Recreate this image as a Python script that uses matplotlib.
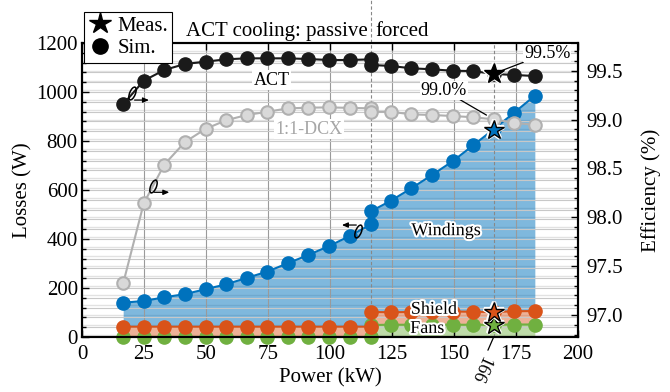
import numpy as np
import matplotlib
matplotlib.use("Agg")
from matplotlib import pyplot as plt
from matplotlib.lines import Line2D
from matplotlib.markers import MarkerStyle
from matplotlib.path import Path
from matplotlib.transforms import Affine2D, blended_transform_factory
from matplotlib.ticker import MultipleLocator, FormatStrFormatter
import matplotlib.patheffects as pe

plt.rcParams['font.family'] = ['Liberation Serif', 'DejaVu Serif']

# Operating points (kW). 116.7 kW appears twice: passive and forced ACT cooling.
power_passive = [16.6, 24.9, 33.2, 41.5, 49.8, 58.1, 66.4, 74.7, 83.0, 91.3, 99.6, 107.9, 116.7]
power_forced = [116.7, 124.5, 132.8, 141.1, 149.4, 157.7, 166.0, 174.3, 182.6]

# Simulated losses (W), stacked: fans, shield, windings
fans_passive = [0, 0, 0, 0, 0, 0, 0, 0, 0, 0, 0, 0, 0]
shield_passive = [42, 42, 42, 42, 42, 42, 42, 42, 42, 42, 42, 42, 42]
windings_passive = [98, 105, 120, 133, 153, 173, 199, 225, 259, 293, 329, 370, 419]
fans_forced = [49, 50, 50, 50, 50, 50, 50, 51, 51]
shield_forced = [53, 51, 52, 53, 54, 53, 52, 54, 55]
windings_forced = [412, 455, 505, 558, 613, 679, 746, 811, 879]

# Simulated efficiency (%)
eff_act_passive = [99.157, 99.398, 99.508, 99.569, 99.593, 99.617, 99.627, 99.627, 99.627,
                   99.620, 99.610, 99.610, 99.617]
eff_act_forced = [99.559, 99.549, 99.525, 99.515, 99.500, 99.497, 99.467, 99.457, 99.446]
eff_dcx_passive = [97.324, 98.143, 98.540, 98.770, 98.905, 98.993, 99.047, 99.080, 99.115,
                   99.122, 99.125, 99.120, 99.115]
eff_dcx_forced = [99.080, 99.080, 99.054, 99.047, 99.037, 99.024, 99.003, 98.968, 98.945]

# Measurement
meas_power = 166
meas_fans = 49
meas_shield = 52
meas_windings = 744
meas_eff_act = 99.47

BLUE = '#0072BD'
ORANGE = '#D95319'
GREEN = '#70B040'
GRAY = '#D9D9D9'
GRAY_EDGE = '#B0B0B0'
FS = 15
FS_ANN = 13

power = np.array(power_passive + power_forced)
lvl_fans = np.array(fans_passive + fans_forced, dtype=float)
lvl_shield = lvl_fans + np.array(shield_passive + shield_forced)
lvl_total = lvl_shield + np.array(windings_passive + windings_forced)
eff_act = np.array(eff_act_passive + eff_act_forced)
eff_dcx = np.array(eff_dcx_passive + eff_dcx_forced)

eff_lim = (96.775, 99.784)

fig = plt.figure(figsize=(6.7, 3.92), dpi=100)
pos = [82 / 670, 55 / 392, 496 / 670, 294 / 392]

# background axes carrying the efficiency grid
axg = fig.add_axes(pos)
axg.set_xlim(0, 200)
axg.set_ylim(*eff_lim)
axg.yaxis.set_minor_locator(MultipleLocator(0.1))
axg.grid(axis='y', which='both', color='#E2E2E2', lw=1.0)
axg.tick_params(which='both', left=False, bottom=False, labelleft=False, labelbottom=False)
for s in axg.spines.values():
    s.set_visible(False)
axg.set_zorder(0)

ax = fig.add_axes(pos)
ax.set_zorder(1)
ax.patch.set_visible(False)
ax2 = ax.twinx()
ax2.set_zorder(2)

# stacked losses
ax.fill_between(power, 0, lvl_fans, color=GREEN, alpha=0.45, lw=0)
ax.fill_between(power, lvl_fans, lvl_shield, color=ORANGE, alpha=0.45, lw=0)
ax.fill_between(power, lvl_shield, lvl_total, color=BLUE, alpha=0.5, lw=0)
ax.plot(power, lvl_fans, '-o', color=GREEN, ms=9.5, lw=1.5, clip_on=False, zorder=3)
ax.plot(power, lvl_shield, '-o', color=ORANGE, ms=9.5, lw=1.5, zorder=3)
ax.plot(power, lvl_total, '-o', color=BLUE, ms=9.5, lw=1.5, zorder=3)

ax.set_xlim(0, 200)
ax.set_ylim(0, 1200)
ax.xaxis.set_major_locator(MultipleLocator(25))
ax.yaxis.set_major_locator(MultipleLocator(200))
ax.yaxis.set_minor_locator(MultipleLocator(40))
ax.grid(axis='x', which='major', color='#9A9A9A', lw=0.8)
ax.grid(axis='y', which='both', color='#C8C8C8', lw=0.8)
ax.tick_params(which='both', direction='in', top=True, right=False, labelsize=FS, width=1)
ax.tick_params(which='major', length=5)
ax.tick_params(which='minor', length=3)
ax.tick_params(axis='y', pad=3)
ax.tick_params(axis='x', pad=6)

# separation lines
ax.axvline(116.7, ymin=0, ymax=1 + 43 / 294, color='#888888', ls=(0, (3, 2)), lw=0.8,
           clip_on=False, zorder=2.5)
ax.axvline(meas_power, color='#888888', ls=(0, (3, 2)), lw=0.8, zorder=2.5)

# efficiency curves
ax2.plot(power, eff_dcx, '-o', color=GRAY_EDGE, mfc=GRAY, mec=GRAY_EDGE, mew=1.5, ms=9,
         lw=1.5)
ax2.plot(power, eff_act, '-o', color='#1A1A1A', ms=9.5, lw=1.5)
ax2.set_ylim(*eff_lim)
ax2.yaxis.set_major_locator(MultipleLocator(0.5))
ax2.yaxis.set_minor_locator(MultipleLocator(0.1))
ax2.yaxis.set_major_formatter(FormatStrFormatter('%.1f'))
ax2.tick_params(which='both', direction='in', labelsize=FS, width=1)
ax2.tick_params(which='major', length=5, pad=6)
ax2.tick_params(which='minor', length=3)

# measurements (stars)
halo = [pe.withStroke(linewidth=3, foreground='white')]
ax2.plot([meas_power], [meas_fans], '*', transform=ax.transData, ms=15, mfc=GREEN,
         mec='black', mew=1, path_effects=halo, clip_on=False)
ax2.plot([meas_power], [meas_fans + meas_shield], '*', transform=ax.transData, ms=15,
         mfc=ORANGE, mec='black', mew=1, path_effects=halo)
ax2.plot([meas_power], [meas_fans + meas_shield + meas_windings], '*',
         transform=ax.transData, ms=15, mfc=BLUE, mec='black', mew=1, path_effects=halo)
ax2.plot([meas_power], [meas_eff_act], '*', ms=15, mfc='black', mec='black', mew=1,
         path_effects=halo)

for s in list(ax.spines.values()) + list(ax2.spines.values()):
    s.set_linewidth(1.5)

# curve labels
ax2.text(76.5, 99.405, 'ACT', fontsize=FS_ANN, ha='center', va='center',
         bbox=dict(fc='white', ec='none', pad=1))
ax2.text(91.5, 98.90, '1:1-DCX', fontsize=FS_ANN, color='#A6A6A6', ha='center', va='center',
         bbox=dict(fc='white', ec='none', pad=1))
outline = [pe.withStroke(linewidth=3, foreground='white')]
ax.text(146.7, 434, 'Windings', fontsize=FS_ANN, ha='center', va='center', path_effects=outline)
ax.text(141.9, 113, 'Shield', fontsize=FS_ANN, ha='center', va='center', path_effects=outline)
ax.text(139.2, 35, 'Fans', fontsize=FS_ANN, ha='center', va='center', path_effects=outline)

ax2.annotate('99.5%', xy=(meas_power, meas_eff_act), xytext=(178.2, 99.68), fontsize=FS_ANN,
             ha='left', va='center', annotation_clip=False,
             bbox=dict(fc='white', ec='none', pad=0.5),
             arrowprops=dict(arrowstyle='-', color='black', lw=0.9, shrinkA=0, shrinkB=6))
ax2.annotate('99.0%', xy=(meas_power, eff_dcx_forced[6]), xytext=(136.6, 99.30),
             fontsize=FS_ANN, ha='left', va='center',
             bbox=dict(fc='white', ec='none', pad=0.5),
             arrowprops=dict(arrowstyle='-', color='black', lw=0.9, shrinkA=0, shrinkB=6))

# axis indicators: ellipse around curve + arrow to its axis
ell = MarkerStyle(Path.unit_circle().transformed(Affine2D().scale(0.42, 1).rotate_deg(-22)))
arrow_style = dict(arrowstyle='-|>,head_length=0.35,head_width=0.15', color='black',
                   lw=0.9, shrinkA=0, shrinkB=0)
ax2.plot([20.0], [99.27], ls='none', marker=ell, ms=9.5, mfc='none', mec='black', mew=1.1)
ax2.annotate('', xy=(27.0, 99.20), xytext=(21.2, 99.20), arrowprops=arrow_style)
ax2.plot([28.5], [98.32], ls='none', marker=ell, ms=9.5, mfc='none', mec='black', mew=1.1)
ax2.annotate('', xy=(35.2, 98.256), xytext=(29.2, 98.256), arrowprops=arrow_style)
ax2.plot([111.4], [433], ls='none', marker=ell, ms=9.5, mfc='none', mec='black', mew=1.1,
         transform=ax.transData)
ax2.annotate('', xy=(104.8, 457), xycoords=ax.transData, xytext=(110.6, 457),
             textcoords=ax.transData, arrowprops=arrow_style)

# 166 kW marker below axis
ax.annotate('166', xy=(meas_power, 0), xycoords=('data', 'axes fraction'),
            xytext=(-6, -14), textcoords='offset points', fontsize=FS_ANN,
            rotation=-114, rotation_mode='anchor', ha='left', va='center',
            annotation_clip=False,
            arrowprops=dict(arrowstyle='-', color='black', lw=0.9, shrinkA=0, shrinkB=0))

# cooling header
tr = blended_transform_factory(ax.transData, ax.transAxes)
ax.text(115.2, 1.04, 'ACT cooling: passive', transform=tr, fontsize=FS, ha='right',
        va='center')
ax.text(118.4, 1.04, 'forced', transform=tr, fontsize=FS, ha='left', va='center')

ax.set_xlabel('Power (kW)', fontsize=FS)
ax.xaxis.set_label_coords(0.5, -0.105)
ax.set_ylabel('Losses (W)', fontsize=FS)
ax.yaxis.set_label_coords(-0.10, 0.5)
ax2.set_ylabel('Efficiency (%)', fontsize=FS)
ax2.yaxis.set_label_coords(1.127, 0.5)

handles = [Line2D([], [], ls='none', marker='*', ms=16, color='black'),
           Line2D([], [], ls='none', marker='o', ms=11, color='black')]
leg = fig.legend(handles, ['Meas.', 'Sim.'], loc='upper left',
                 bbox_to_anchor=(84 / 670, 1 - 12 / 392), fontsize=FS, frameon=True,
                 fancybox=False, edgecolor='black', framealpha=1, borderpad=0.2,
                 labelspacing=0.15, handletextpad=0.3, handlelength=1.1, borderaxespad=0)
leg.get_frame().set_linewidth(0.8)

fig.savefig('out.png', dpi=100)
